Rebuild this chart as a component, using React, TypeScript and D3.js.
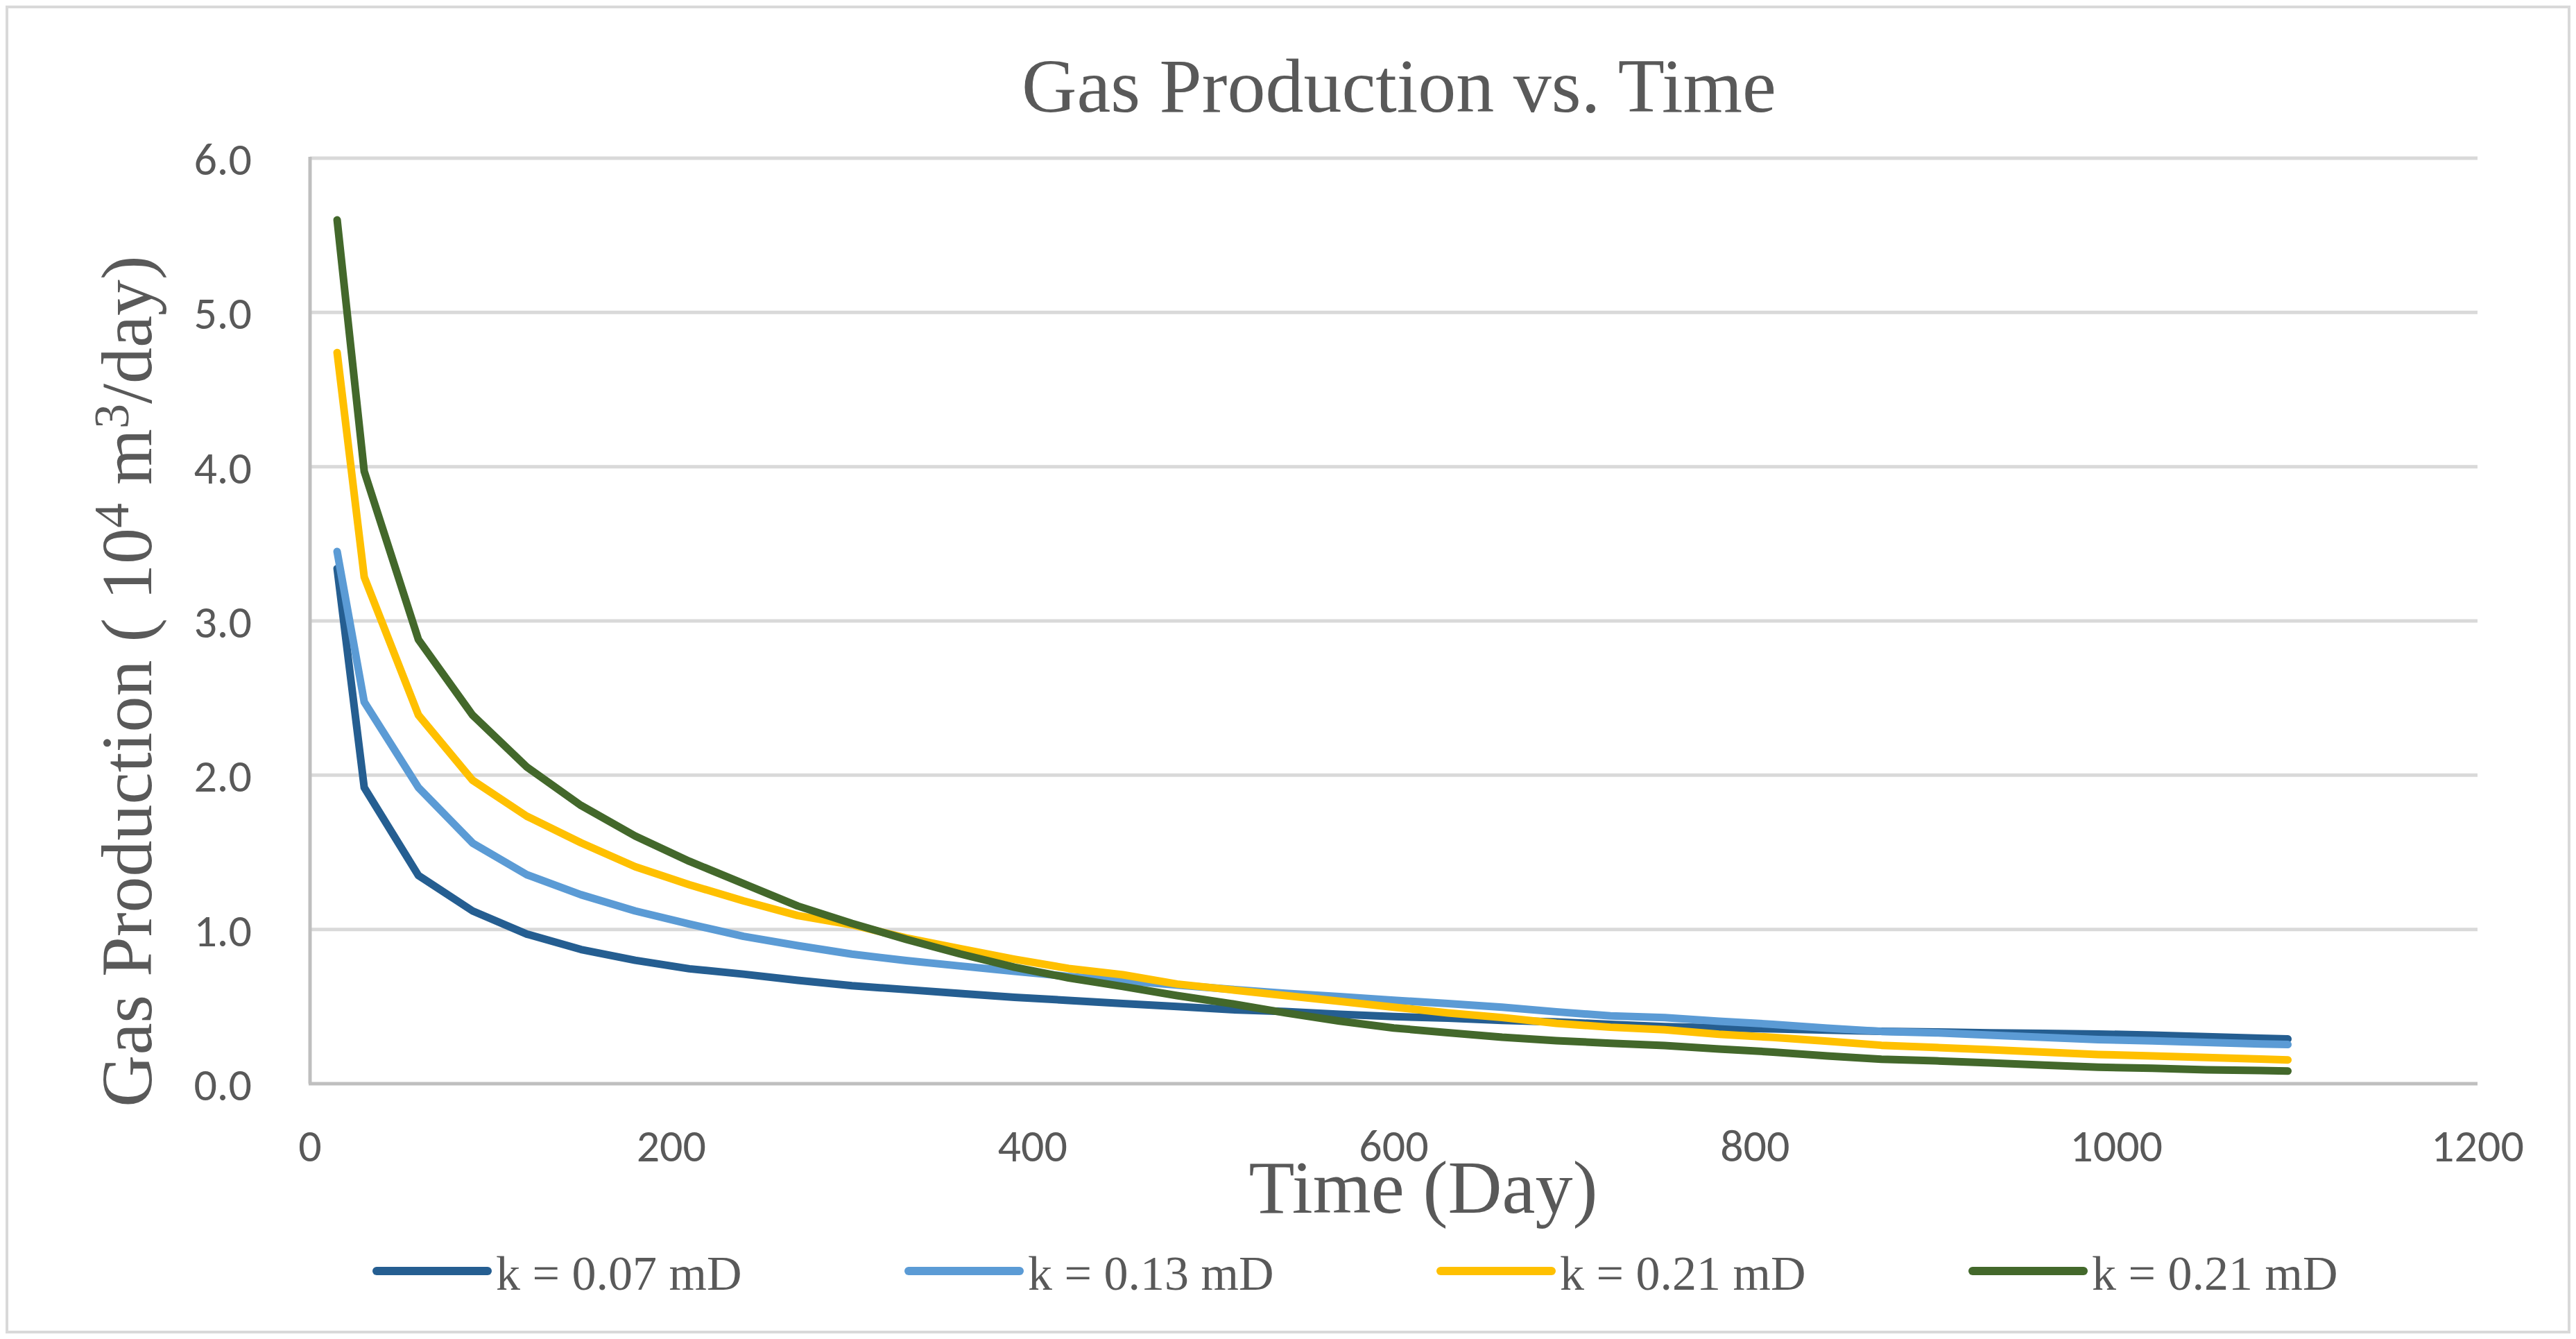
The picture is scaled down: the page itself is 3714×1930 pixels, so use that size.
import React from 'react';
import * as d3 from 'd3';

// days of each reading
const days = [15, 30, 60, 90, 120, 150, 180, 210, 240, 270, 300, 330, 360, 390, 420, 450, 480, 510, 540, 570, 600, 630, 660, 690, 720, 750, 780, 810, 840, 870, 900, 930, 960, 990, 1020, 1050, 1080, 1095];

const k007 = [3.34, 1.92, 1.35, 1.12, 0.97, 0.87, 0.80, 0.745, 0.71, 0.67, 0.635, 0.61, 0.585, 0.56, 0.54, 0.52, 0.50, 0.48, 0.468, 0.45, 0.435, 0.425, 0.41, 0.40, 0.385, 0.37, 0.362, 0.355, 0.347, 0.34, 0.335, 0.33, 0.326, 0.322, 0.315, 0.305, 0.295, 0.29];
const k013 = [3.45, 2.475, 1.92, 1.56, 1.355, 1.225, 1.12, 1.035, 0.955, 0.895, 0.84, 0.798, 0.763, 0.729, 0.695, 0.668, 0.64, 0.612, 0.586, 0.564, 0.541, 0.519, 0.496, 0.466, 0.44, 0.428, 0.405, 0.385, 0.36, 0.339, 0.33, 0.315, 0.30, 0.286, 0.278, 0.268, 0.258, 0.254];
const k021a = [4.74, 3.285, 2.39, 1.967, 1.734, 1.562, 1.407, 1.29, 1.185, 1.09, 1.03, 0.945, 0.875, 0.807, 0.747, 0.706, 0.646, 0.609, 0.571, 0.534, 0.496, 0.459, 0.429, 0.391, 0.366, 0.35, 0.32, 0.30, 0.275, 0.249, 0.235, 0.22, 0.205, 0.189, 0.18, 0.17, 0.16, 0.154];
const k021b = [5.60, 3.97, 2.879, 2.389, 2.053, 1.804, 1.606, 1.442, 1.297, 1.152, 1.039, 0.936, 0.841, 0.755, 0.686, 0.63, 0.571, 0.519, 0.459, 0.406, 0.361, 0.331, 0.301, 0.279, 0.262, 0.247, 0.225, 0.205, 0.18, 0.159, 0.148, 0.135, 0.12, 0.107, 0.10, 0.09, 0.085, 0.082];

const seriesNames = ['k = 0.07 mD', 'k = 0.13 mD', 'k = 0.21 mD', 'k = 0.21 mD'];
const seriesValues = [k007, k013, k021a, k021b];
const seriesColors = ['#255e91', '#5b9bd5', '#ffc000', '#43682b'];

const xTicks = [0, 200, 400, 600, 800, 1000, 1200];
const yTicks = [0, 1, 2, 3, 4, 5, 6];

const W = 3714;
const H = 1930;
const serif = '"Liberation Serif", "Times New Roman", serif';
const sans = 'Carlito, Calibri, Lato, sans-serif';
const textColor = '#595959';

export default function App() {
  const x = d3.scaleLinear().domain([0, 1200]).range([447, 3572]);
  const y = d3.scaleLinear().domain([0, 6]).range([1562, 228]);

  const line = d3
    .line<[number, number]>()
    .x((d) => x(d[0]))
    .y((d) => y(d[1]));

  const fmt = d3.format('.1f');

  return (
    <svg
      width={W}
      height={H}
      style={{ position: 'absolute', left: 0, top: 0, background: '#fff' }}
    >
      <rect x={0} y={0} width={W} height={H} fill="#fff" />
      <rect x={10} y={10} width={W - 20} height={H - 20} fill="none" stroke="#d9d9d9" strokeWidth={4} />

      {/* title */}
      <text x={2017} y={161} textAnchor="middle" fontFamily={serif} fontSize={110} fill={textColor}>
        Gas Production vs. Time
      </text>

      {/* gridlines */}
      {yTicks.filter((t) => t > 0).map((t) => (
        <line key={t} x1={x(0)} x2={x(1200)} y1={y(t)} y2={y(t)} stroke="#d9d9d9" strokeWidth={5} />
      ))}

      {/* axes */}
      <line x1={x(0)} x2={x(0)} y1={y(6) - 2} y2={y(0)} stroke="#bfbfbf" strokeWidth={5} />
      <line x1={x(0) - 2} x2={x(1200)} y1={y(0)} y2={y(0)} stroke="#bfbfbf" strokeWidth={5} />

      {/* y tick labels */}
      {yTicks.map((t) => (
        <text key={t} x={363} y={y(t) + 24} textAnchor="end" fontFamily={sans} fontSize={66} fill={textColor}>
          {fmt(t)}
        </text>
      ))}

      {/* x tick labels */}
      {xTicks.map((t) => (
        <text key={t} x={x(t)} y={1674} textAnchor="middle" fontFamily={sans} fontSize={66} fill={textColor}>
          {t}
        </text>
      ))}

      {/* axis titles */}
      <text x={2052} y={1748} textAnchor="middle" fontFamily={serif} fontSize={108} fill={textColor}>
        Time (Day)
      </text>
      <text
        transform="translate(218, 982) rotate(-90)"
        textAnchor="middle"
        fontFamily={serif}
        fontSize={104}
        fill={textColor}
      >
        Gas Production ( 10
        <tspan fontSize={72} dy={-33}>4</tspan>
        <tspan dy={33}> m</tspan>
        <tspan fontSize={72} dy={-33}>3</tspan>
        <tspan dy={33}>/day)</tspan>
      </text>

      {/* series */}
      {seriesValues.map((vals, i) => (
        <path
          key={i}
          d={line(days.map((d, j) => [d, vals[j]] as [number, number])) || ''}
          fill="none"
          stroke={seriesColors[i]}
          strokeWidth={11}
          strokeLinecap="round"
          strokeLinejoin="round"
        />
      ))}

      {/* legend */}
      {seriesNames.map((name, i) => {
        const lx = 543 + i * 767;
        return (
          <g key={i}>
            <line x1={lx} x2={lx + 160} y1={1832} y2={1832} stroke={seriesColors[i]} strokeWidth={12} strokeLinecap="round" />
            <text x={lx + 172} y={1859} fontFamily={serif} fontSize={70} fill={textColor}>
              {name}
            </text>
          </g>
        );
      })}
    </svg>
  );
}
